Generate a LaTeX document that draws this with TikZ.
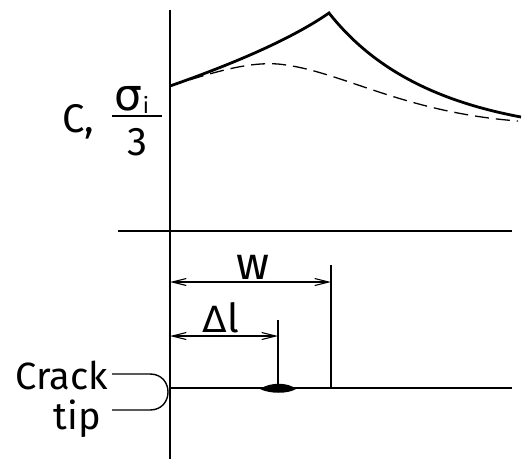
\documentclass[tikz,border=0pt]{standalone}
\usepackage{fontspec}
\setmainfont{Fira Sans}
\newfontfamily\grk{DejaVu Sans}
\usetikzlibrary{arrows.meta}
\begin{document}
\begin{tikzpicture}[x=1pt,y=-1pt,
  axisline/.style={line width=1.4pt},
  thick curve/.style={line width=2.8pt,line join=miter},
  dash curve/.style={line width=1.3pt,dash pattern=on 14pt off 7pt},
  dimarrow/.style={line width=1.1pt,{Straight Barb[length=14pt,width=7pt]}-{Straight Barb[length=14pt,width=7pt]}},
  lab/.style={inner sep=0pt,font=\fontsize{40}{44}\selectfont},
  crklab/.style={inner sep=0pt,font=\fontsize{38}{40}\selectfont}]
\useasboundingbox (0,0) rectangle (527,459);
% axes
\coordinate (atop) at (170,10);
\coordinate (abot) at (170,459);
\draw[axisline] (atop) -- (abot);
\coordinate (hl) at (118,231);
\coordinate (hr) at (512,231);
\draw[axisline] (hl) -- (hr);
% curves
\coordinate (c0) at (170,86);
\coordinate (pk) at (329,13);
\coordinate (cend) at (521,117);
\draw[thick curve] (c0) .. controls (230,65) and (290,40) .. (pk)
  .. controls (370,65) and (430,100) .. (cend);
\draw[dash curve] (c0) .. controls (220,70) and (250,62) .. (278,64)
  .. controls (340,70) and (400,112) .. (518,121);
% label
\node[lab,anchor=base west] (clab) at (62,132) {C,};
\node[lab,anchor=base] (sig) at (132,110) {{\grk\fontsize{44}{46}\selectfont σ}\raisebox{-3pt}{\fontsize{22}{24}\selectfont i}};
\node[lab,anchor=base] (three) at (137,155) {3};
\coordinate (fl) at (112,116);
\coordinate (fr) at (162,116);
\draw[line width=2pt] (fl) -- (fr);
% bottom part
\coordinate (crl) at (170,388);
\coordinate (crr) at (512,388);
\draw[axisline] (crl) -- (crr);
\coordinate (wtick) at (331,265);
\coordinate (wbase) at (331,388);
\draw[line width=1.1pt] (wtick) -- (wbase);
\coordinate (dtick) at (278,320);
\coordinate (dbase) at (278,388);
\draw[line width=1.1pt] (dtick) -- (dbase);
\coordinate (wa) at (170,282);
\coordinate (wb) at (331,282);
\draw[dimarrow] (wa) -- (wb);
\coordinate (da) at (170,336);
\coordinate (db) at (278,336);
\draw[dimarrow] (da) -- (db);
\node[lab,anchor=base,font=\fontsize{46}{48}\selectfont] (wl) at (253,279) {w};
\node[lab,anchor=base] (dl) at (221,332) {{\grk\fontsize{36}{38}\selectfont Δ}l};
% blob
\fill (260,389) .. controls (270,382) and (288,382) .. (296,389)
  .. controls (288,394) and (270,394) .. (260,389) -- cycle;
% crack tip bracket
\coordinate (bt) at (112,374);
\coordinate (bb) at (112,410);
\draw[line width=1.4pt] (bt) -- (150,374) .. controls (174,374) and (174,410) .. (150,410) -- (bb);
\node[crklab,anchor=base east,text depth=0pt] (crack) at (108,389) {Crack};
\node[crklab,anchor=base east,text height=26pt] (tip) at (101,429) {tip};
\end{tikzpicture}
\end{document}
